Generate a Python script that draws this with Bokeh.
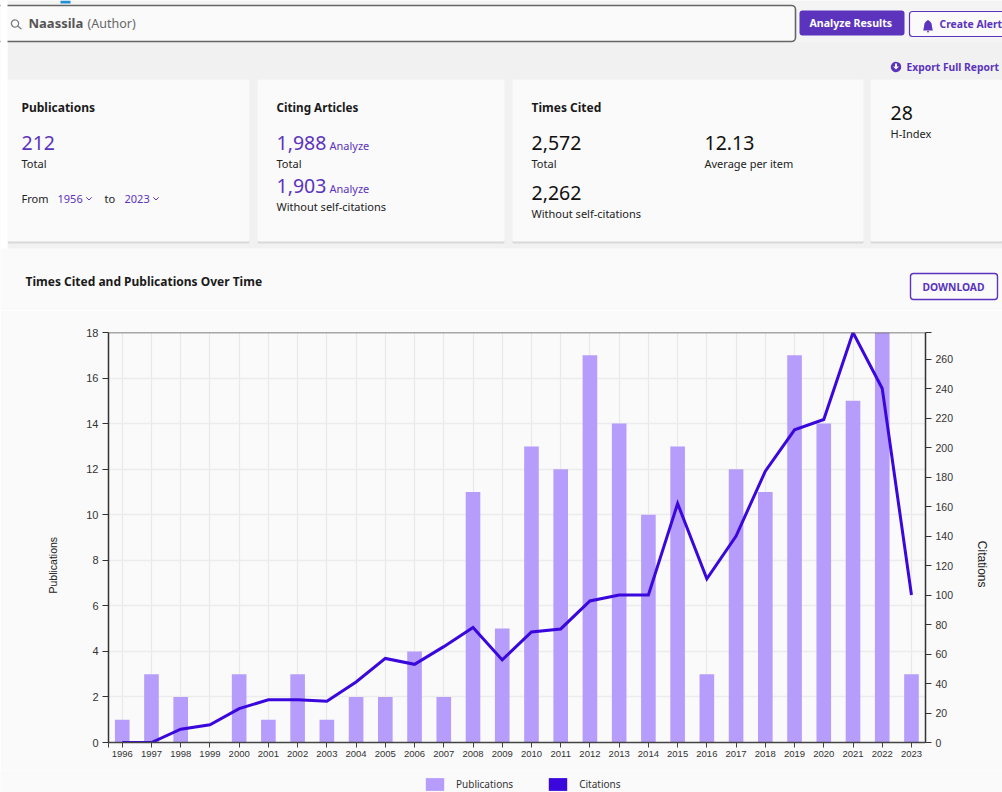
import numpy as np
from bokeh.embed import file_html
from bokeh.resources import INLINE
from bokeh.plotting import figure
from bokeh.models import (Range1d, LinearAxis, FixedTicker, Label, BoxAnnotation, PolyAnnotation,
                          Legend, LegendItem, ColumnDataSource, Span)

years = list(range(1996, 2024))
publications = [1, 3, 2, 0, 3, 1, 3, 1, 2, 2, 4, 2, 11, 5, 13, 12, 17, 14, 10, 13, 3, 12, 11, 17, 14, 15, 18, 3]
citations = [0, 0, 9, 12, 23, 29, 29, 28, 41, 57, 53, 65, 78, 56, 75, 77, 96, 100, 100, 162, 111, 140, 184, 212, 219, 278, 240, 100]
left_ticks = list(range(0, 20, 2))
right_ticks = list(range(0, 280, 20))

PURPLE = "#5b33bd"
BAR = "#b69cfb"
LINE = "#3a08dc"
BG = "#fafafa"
BAND = "#f1f1f1"
UI = "Noto Sans"
AX = "Liberation Sans"
NBSP = "\u00a0"

W, H = 1002, 792
SPLIT = 310
FOOT = 770
FL, FR, FT, FB = 108, 925, 332, 742
X0, X1 = 1995.53, 2023.48
Y_CIT_TOP = 278

# ---------- page chrome ----------
top = figure(width=W, height=SPLIT, output_backend="svg", toolbar_location=None,
             x_range=Range1d(0, W), y_range=Range1d(SPLIT, 0), x_axis_location=None, y_axis_location=None,
             min_border=0, background_fill_color=BG, border_fill_color=BG, outline_line_color=None)
top.grid.visible = False

def box(x0, y0, x1, y1, fill=None, line_c=None, lw=0, r=0):
    top.add_layout(BoxAnnotation(left=x0, right=x1, top=y0, bottom=y1,
                                 left_units="data", right_units="data", top_units="data", bottom_units="data",
                                 fill_color=fill, fill_alpha=1 if fill else 0, line_color=line_c, line_width=lw,
                                 line_alpha=1 if line_c else 0, border_radius=r, level="annotation"))

def poly(xs, ys, fill=None, line_c=None, lw=1):
    top.add_layout(PolyAnnotation(xs=list(xs), ys=list(ys), xs_units="data", ys_units="data",
                                  fill_color=fill, fill_alpha=1 if fill else 0, line_color=line_c,
                                  line_width=lw, line_alpha=1 if line_c else 0, level="annotation"))

def txt(x, y, s, size=12, color="#222222", style="normal", font=UI, align="left"):
    top.add_layout(Label(x=x - 1, y=y - 1, text=s, text_font=font, text_font_size=f"{size}px", text_color=color,
                         text_font_style=style, text_align=align, text_baseline="middle", level="overlay"))

box(0, 0, W, 41, fill="#f4f4f4")
box(7, 41, W, 248, fill=BAND)
box(60, 0, 70, 3, fill="#1f8fd6")
for x0, x1 in [(7, 249), (257, 504), (512, 863), (870, W)]:
    box(x0, 240, x1, 243, fill="#d9d9d9", r=2)
    box(x0, 79, x1, 241, fill=BG, r=2)
box(-6, 5, 795, 41, fill=BG, line_c="#666666", lw=1.6, r=4)
box(0, 0, 7, 248, fill="#ffffff")
box(799, 10, 904, 35, fill=PURPLE, r=3)
box(909, 11, W + 6, 36, fill=BG, line_c=PURPLE, lw=1.2, r=3)
box(910, 273, 997, 299, fill=BG, line_c=PURPLE, lw=1.4, r=3)

t = np.linspace(0, 2 * np.pi, 24)
poly(14.5 + 3.6 * np.cos(t), 23 + 3.6 * np.sin(t), None, "#777777", 1.2)
poly([17, 21, 17], [25.6, 28.5, 25.6], None, "#777777", 1.2)
poly([923, 924, 925, 926, 927.5, 929, 930, 931, 932, 932.5, 922.5], [29, 23, 21.5, 20.5, 19.5, 20.5, 21.5, 23, 29, 30, 30], PURPLE)
poly([926.5, 928.5, 928, 927], [30.5, 30.5, 32, 32], PURPLE)
poly(895.5 + 5.2 * np.cos(t), 66.5 + 5.2 * np.sin(t), PURPLE)
poly([894.5, 896.5, 896.5, 898.5, 895.5, 892.5, 894.5], [63, 63, 66, 66, 69, 66, 66], BG)
poly([86, 88.5, 91, 88.5], [197, 199.5, 197, 199.5], None, PURPLE, 0.9)
poly([153, 155.5, 158, 155.5], [197, 199.5, 197, 199.5], None, PURPLE, 0.9)

txt(29, 23.5, "Naassila", 13, "#555555", "bold")
txt(88, 23.5, "(Author)", 12.5, "#666666")
txt(810, 23, "Analyze Results", 10.6, "#ffffff", "bold")
txt(940, 24.5, "Create Alert", 10.4, PURPLE, "bold")
txt(907, 67, "Export Full Report", 10.3, PURPLE, "bold")
txt(954, 287.5, "DOWNLOAD", 10.3, PURPLE, "bold", align="center")

txt(22, 108, "Publications", 12, "#1a1a1a", "bold")
txt(22, 143, "212", 19.5, PURPLE)
txt(22, 164, "Total", 11, "#222222")
txt(22, 199, "From", 11, "#222222")
txt(58, 199, "1956", 11, PURPLE)
txt(105, 199, "to", 11, "#222222")
txt(125, 199, "2023", 11, PURPLE)

txt(277, 107.5, "Citing Articles", 11.7, "#1a1a1a", "bold")
txt(277, 143, "1,988", 19.5, PURPLE)
txt(330, 146, "Analyze", 11, PURPLE)
txt(277, 164, "Total", 11, "#222222")
txt(277, 186.5, "1,903", 19.5, PURPLE)
txt(330, 189, "Analyze", 11, PURPLE)
txt(277, 207, "Without self-citations", 11, "#222222")

txt(532, 108, "Times Cited", 12, "#1a1a1a", "bold")
txt(532, 143, "2,572", 19.5, "#111111")
txt(532, 164, "Total", 11, "#222222")
txt(705, 143, "12.13", 19.5, "#111111")
txt(705, 164, "Average per item", 11, "#222222")
txt(532, 193, "2,262", 19.5, "#111111")
txt(532, 214, "Without self-citations", 11, "#222222")

txt(891, 113, "28", 19.5, "#111111")
txt(891, 134, "H-Index", 11, "#222222")

txt(26, 282, "Times Cited and Publications Over Time", 12, "#1a1a1a", "bold")

# ---------- chart ----------
p = figure(width=W, height=FOOT - SPLIT, output_backend="svg", toolbar_location=None,
           x_range=Range1d(X0, X1), y_range=Range1d(0, 18),
           min_border_left=FL, min_border_right=W - FR, min_border_top=FT - SPLIT, min_border_bottom=FOOT - FB,
           background_fill_color=BG, border_fill_color=BG, outline_line_color=None)
p.extra_y_ranges["cit"] = Range1d(0, Y_CIT_TOP)

p.xaxis.ticker = FixedTicker(ticks=[X0] + years)
p.xaxis.major_label_overrides = {X0: ""}
p.xaxis.major_label_text_font = AX
p.xaxis.major_label_text_font_size = "9.5px"
p.xaxis.major_label_text_color = "#333333"
p.xaxis.major_label_standoff = 3
p.xaxis.major_tick_in = 0
p.xaxis.major_tick_out = 5
p.xaxis.minor_tick_line_color = None
p.xaxis.axis_line_color = "#444444"
p.xaxis.axis_line_width = 1.5
p.xaxis.major_tick_line_color = "#444444"
p.xaxis.formatter.use_scientific = False
p.xaxis.formatter.precision = 0

# The axis titles sit lower than the frame's middle in the reference: no-break spaces move them there
ax = p.yaxis[0]
ax.ticker = FixedTicker(ticks=left_ticks)
ax.axis_label = "Publications" + NBSP * 19
ax.axis_label_text_font = AX
ax.axis_label_text_font_style = "normal"
ax.axis_label_text_font_size = "10.5px"
ax.axis_label_text_color = "#222222"
ax.axis_label_standoff = 24
ax.major_label_text_font = AX
ax.major_label_text_font_size = "11px"
ax.major_label_text_color = "#333333"
ax.major_label_standoff = 4
ax.major_tick_in = 0
ax.major_tick_out = 6
ax.minor_tick_line_color = None
ax.axis_line_color = "#333333"
ax.axis_line_width = 1.5
ax.major_tick_line_color = "#333333"

rax = LinearAxis(y_range_name="cit", ticker=FixedTicker(ticks=right_ticks + [Y_CIT_TOP]),
                 major_label_overrides={Y_CIT_TOP: ""}, axis_label=NBSP * 16 + "Citations",
                 axis_label_text_font=AX, axis_label_text_font_style="normal",
                 axis_label_text_font_size="12px", axis_label_text_color="#222222", axis_label_standoff=19,
                 major_label_text_font=AX, major_label_text_font_size="10.5px",
                 major_label_text_color="#333333", major_label_standoff=4, major_tick_in=0, major_tick_out=6,
                 minor_tick_line_color=None, axis_line_color="#333333", axis_line_width=1.5,
                 major_tick_line_color="#333333")
p.add_layout(rax, "right")

p.xgrid.ticker = FixedTicker(ticks=years)
p.ygrid.ticker = FixedTicker(ticks=left_ticks)
p.xgrid.grid_line_color = "#e9e9e9"
p.ygrid.grid_line_color = "#ececec"
p.xgrid.grid_line_width = 1.2
p.ygrid.grid_line_width = 1.5
p.add_layout(Span(location=18, dimension="width", line_color="#555555", line_width=1.5))

src = ColumnDataSource(dict(year=years, pub=publications, cit=citations))
p.vbar(x="year", top="pub", width=0.5, source=src, fill_color=BAR, line_color=None)
p.line(x="year", y="cit", source=src, y_range_name="cit", line_color=LINE, line_width=3, line_join="miter")

# ---------- legend strip: same data, out of this strip's range, so that only the legend shows ----------
foot = figure(width=W, height=H - FOOT, output_backend="svg", toolbar_location=None,
              x_range=Range1d(0, 1), y_range=Range1d(0, 1), x_axis_location=None, y_axis_location=None,
              min_border=0, background_fill_color=BG, border_fill_color=BG, outline_line_color=None)
foot.grid.visible = False
sw_pub = foot.vbar(x="year", top="pub", width=0.5, source=src, fill_color=BAR, line_color=None)
sw_cit = foot.vbar(x="year", top="cit", width=0.5, source=src, fill_color=LINE, line_color=None)
legend = Legend(items=[LegendItem(label="Publications", renderers=[sw_pub]),
                       LegendItem(label="Citations", renderers=[sw_cit])],
                orientation="horizontal", location=(423, 0), background_fill_alpha=0, border_line_color=None,
                label_text_font=UI, label_text_font_size="10px", label_text_color="#333333",
                glyph_width=23, glyph_height=16, spacing=33, label_standoff=10, margin=0, padding=0)
foot.add_layout(legend, "center")

open("out.html", "w").write(file_html([top, p, foot], INLINE))
